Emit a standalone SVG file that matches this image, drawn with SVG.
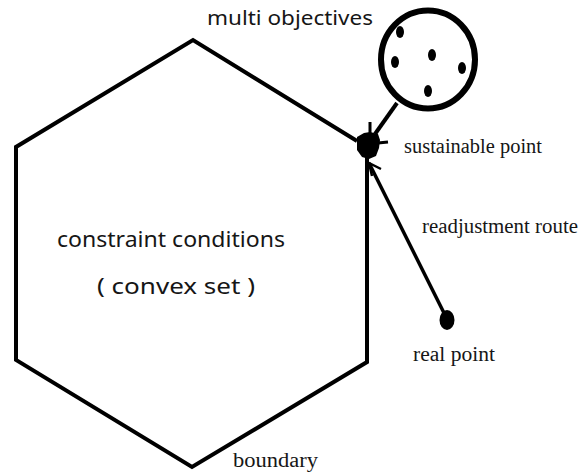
<svg xmlns="http://www.w3.org/2000/svg" width="588" height="476" viewBox="0 0 588 476">
  <style>
    .edge { fill: none; stroke: #000; stroke-linejoin: miter; stroke-linecap: butt; }
    .sans { font-family: "Noto Sans", "Open Sans", "DejaVu Sans", sans-serif; fill: #161616; }
    .serif { font-family: "Liberation Serif", "DejaVu Serif", serif; fill: #161616; }
    .dot { fill: #000; }
  </style>
  <rect width="588" height="476" fill="#fff"/>

  <!-- feasible region: convex hexagon -->
  <g id="constraint-set">
    <polyline class="edge" stroke-width="4" points="357,141 193,40 16,147 16,360 192,467 367,362 367,150"/>
    <text class="sans" x="57" y="247" font-size="21" textLength="228" lengthAdjust="spacingAndGlyphs">constraint conditions</text>
    <text class="sans" x="97" y="294" font-size="21" textLength="158" lengthAdjust="spacingAndGlyphs">( convex set )</text>
  </g>

  <!-- objective set with sample points -->
  <g id="multi-objectives">
    <ellipse cx="428" cy="59.5" rx="47" ry="49" fill="#fff" stroke="#000" stroke-width="6"/>
    <ellipse class="dot" cx="400" cy="32" rx="4" ry="6"/>
    <ellipse class="dot" cx="432" cy="55" rx="4" ry="6"/>
    <ellipse class="dot" cx="395" cy="62" rx="4" ry="6"/>
    <ellipse class="dot" cx="462" cy="68" rx="4" ry="6"/>
    <ellipse class="dot" cx="428" cy="91" rx="4" ry="6"/>
    <text class="sans" x="207" y="25" font-size="19.5" textLength="166" lengthAdjust="spacingAndGlyphs">multi objectives</text>
  </g>

  <!-- point on the boundary -->
  <g id="sustainable-point">
    <path fill="#000" d="M357,137 L364,133 L370,132 L378,134 L380,140 L379,148 L376,156 L369,159 L362,157 L357,150 Z"/>
    <path class="edge" stroke-width="3" d="M370,122 L370,136 M378,143 L388,142"/>
    <text class="serif" x="404" y="153" font-size="20.5" textLength="138" lengthAdjust="spacingAndGlyphs">sustainable point</text>
  </g>

  <!-- observed point -->
  <g id="real-point">
    <ellipse cx="447" cy="320" rx="7.5" ry="10" fill="#000"/>
    <text class="serif" x="413" y="361" font-size="20.5" textLength="82" lengthAdjust="spacingAndGlyphs">real point</text>
  </g>

  <text class="serif" x="233" y="467" font-size="20.5" textLength="85" lengthAdjust="spacingAndGlyphs">boundary</text>

  <!-- connectors -->
  <g id="connectors">
    <line class="edge" stroke-width="4" x1="397" y1="103" x2="375" y2="134"/>
    <line class="edge" stroke-width="3.5" x1="444" y1="313" x2="369" y2="163"/>
    <path class="edge" stroke-width="2.5" d="M372,176 L369,163 L381,169"/>
    <text class="serif" x="422" y="233" font-size="20.5" textLength="156" lengthAdjust="spacingAndGlyphs">readjustment route</text>
  </g>
</svg>
